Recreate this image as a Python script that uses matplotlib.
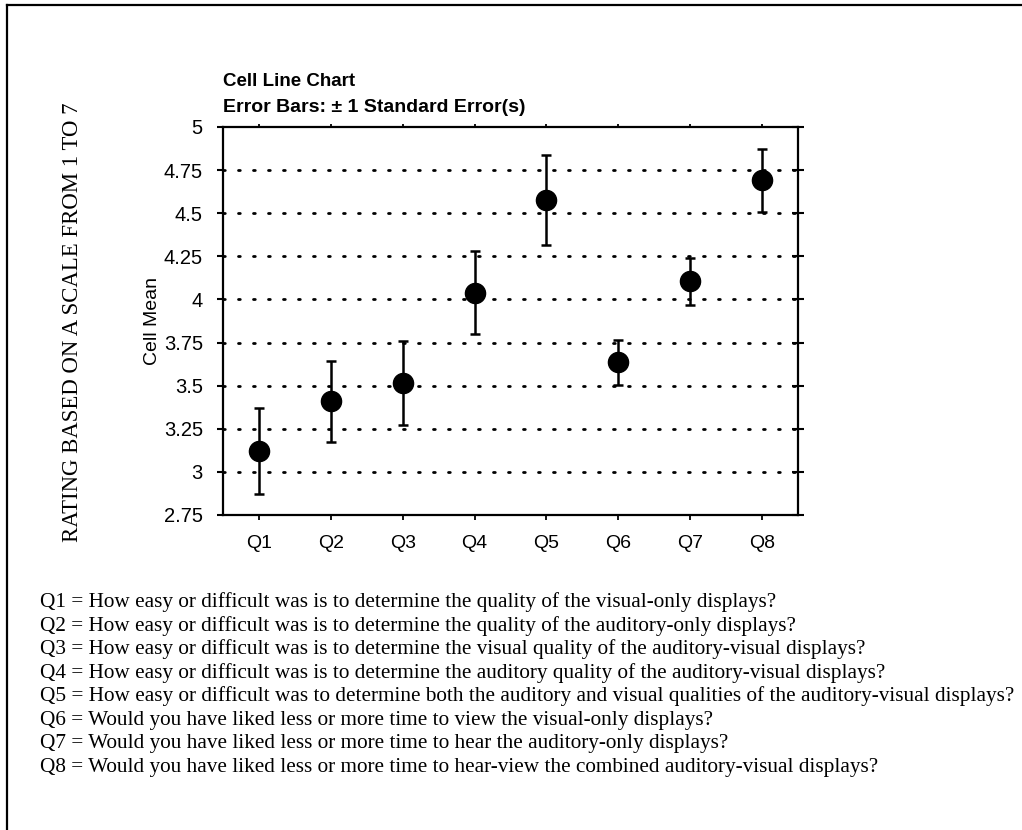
import matplotlib
matplotlib.use("Agg")
import matplotlib.pyplot as plt
from matplotlib.lines import Line2D

categories = ["Q1", "Q2", "Q3", "Q4", "Q5", "Q6", "Q7", "Q8"]
cell_means = [3.12, 3.41, 3.515, 4.04, 4.575, 3.635, 4.105, 4.69]
std_errors = [0.25, 0.235, 0.245, 0.24, 0.26, 0.13, 0.135, 0.185]
y_ticks = [2.75, 3, 3.25, 3.5, 3.75, 4, 4.25, 4.5, 4.75, 5]
y_tick_labels = ["2.75", "3", "3.25", "3.5", "3.75", "4", "4.25", "4.5", "4.75", "5"]
questions = [
    "Q1 = How easy or difficult was is to determine the quality of the visual-only displays?",
    "Q2 = How easy or difficult was is to determine the quality of the auditory-only displays?",
    "Q3 = How easy or difficult was is to determine the visual quality of the auditory-visual displays?",
    "Q4 = How easy or difficult was is to determine the auditory quality of the auditory-visual displays?",
    "Q5 = How easy or difficult was to determine both the auditory and visual qualities of the auditory-visual displays?",
    "Q6 = Would you have liked less or more time to view the visual-only displays?",
    "Q7 = Would you have liked less or more time to hear the auditory-only displays?",
    "Q8 = Would you have liked less or more time to hear-view the combined auditory-visual displays?",
]

plt.rcParams['lines.scale_dashes'] = False
W, H = 1022, 830
fig = plt.figure(figsize=(W / 100, H / 100), dpi=100)
fig.patch.set_facecolor("white")

def fx(px):
    return px / W

def fy(py):
    return 1 - py / H

ax = fig.add_axes([fx(223), fy(515), fx(798) - fx(223), fy(127) - fy(515)])
x = list(range(1, len(categories) + 1))

for t in y_ticks[1:-1]:
    ax.axhline(t, color="black", lw=2.0, linestyle=(0, (1.3, 9.5)), dash_capstyle="round", zorder=1)

ax.errorbar(x, cell_means, yerr=std_errors, fmt="o", color="black", ms=14.5,
            elinewidth=1.8, capsize=3.5, capthick=1.8, zorder=3)

ax.set_xlim(0.5, 8.5)
ax.set_ylim(2.75, 5)
ax.set_xticks(x)
ax.set_xticklabels(categories, fontfamily="Liberation Sans", fontsize=14)
ax.set_yticks(y_ticks)
ax.set_yticklabels(y_tick_labels, fontfamily="Liberation Sans", fontsize=14.5)
for s in ax.spines.values():
    s.set_linewidth(1.6)
ax.tick_params(axis="y", which="both", left=True, right=False, direction="out", length=4.5, width=1.5, pad=10)
ax.tick_params(axis="x", which="both", bottom=True, top=True, direction="out", length=3.5, width=1.3, pad=11)
ax.tick_params(axis="x", which="major", top=True, labeltop=False)
for tk in ax.xaxis.get_major_ticks():
    tk.tick2line.set_markersize(2)

# right-side ticks crossing the spine
axr = ax.twinx()
axr.set_ylim(ax.get_ylim())
axr.set_yticks(y_ticks)
axr.set_yticklabels([])
axr.tick_params(axis="y", direction="inout", length=9, width=1.5)
for s in axr.spines.values():
    s.set_visible(False)

ax.set_ylabel("Cell Mean", fontfamily="Liberation Sans", fontsize=14, labelpad=2)

fig.text(fx(73), fy(322), "RATING BASED ON A SCALE FROM 1 TO 7", rotation=90,
         ha="center", va="center", fontfamily="Liberation Serif", fontsize=16.4)

fig.text(fx(223), fy(82), "Cell Line Chart", ha="left", va="center",
         fontfamily="Liberation Sans", fontweight="bold", fontsize=13.5)
fig.text(fx(223), fy(107), "Error Bars: \u00b1 1 Standard Error(s)", ha="left", va="center",
         fontfamily="Liberation Sans", fontweight="bold", fontsize=14)

for i, q in enumerate(questions):
    fig.text(fx(40), fy(602 + i * 23.6), q, ha="left", va="center",
             fontfamily="Liberation Serif", fontsize=15.3)

# page border (top and left edges of the scanned frame)
fig.add_artist(Line2D([fx(7), 1.0], [fy(5), fy(5)], color="black", lw=1.6))
fig.add_artist(Line2D([fx(7), fx(7)], [fy(5), 0.0], color="black", lw=1.6))

fig.savefig("out.png", dpi=100, facecolor="white")
